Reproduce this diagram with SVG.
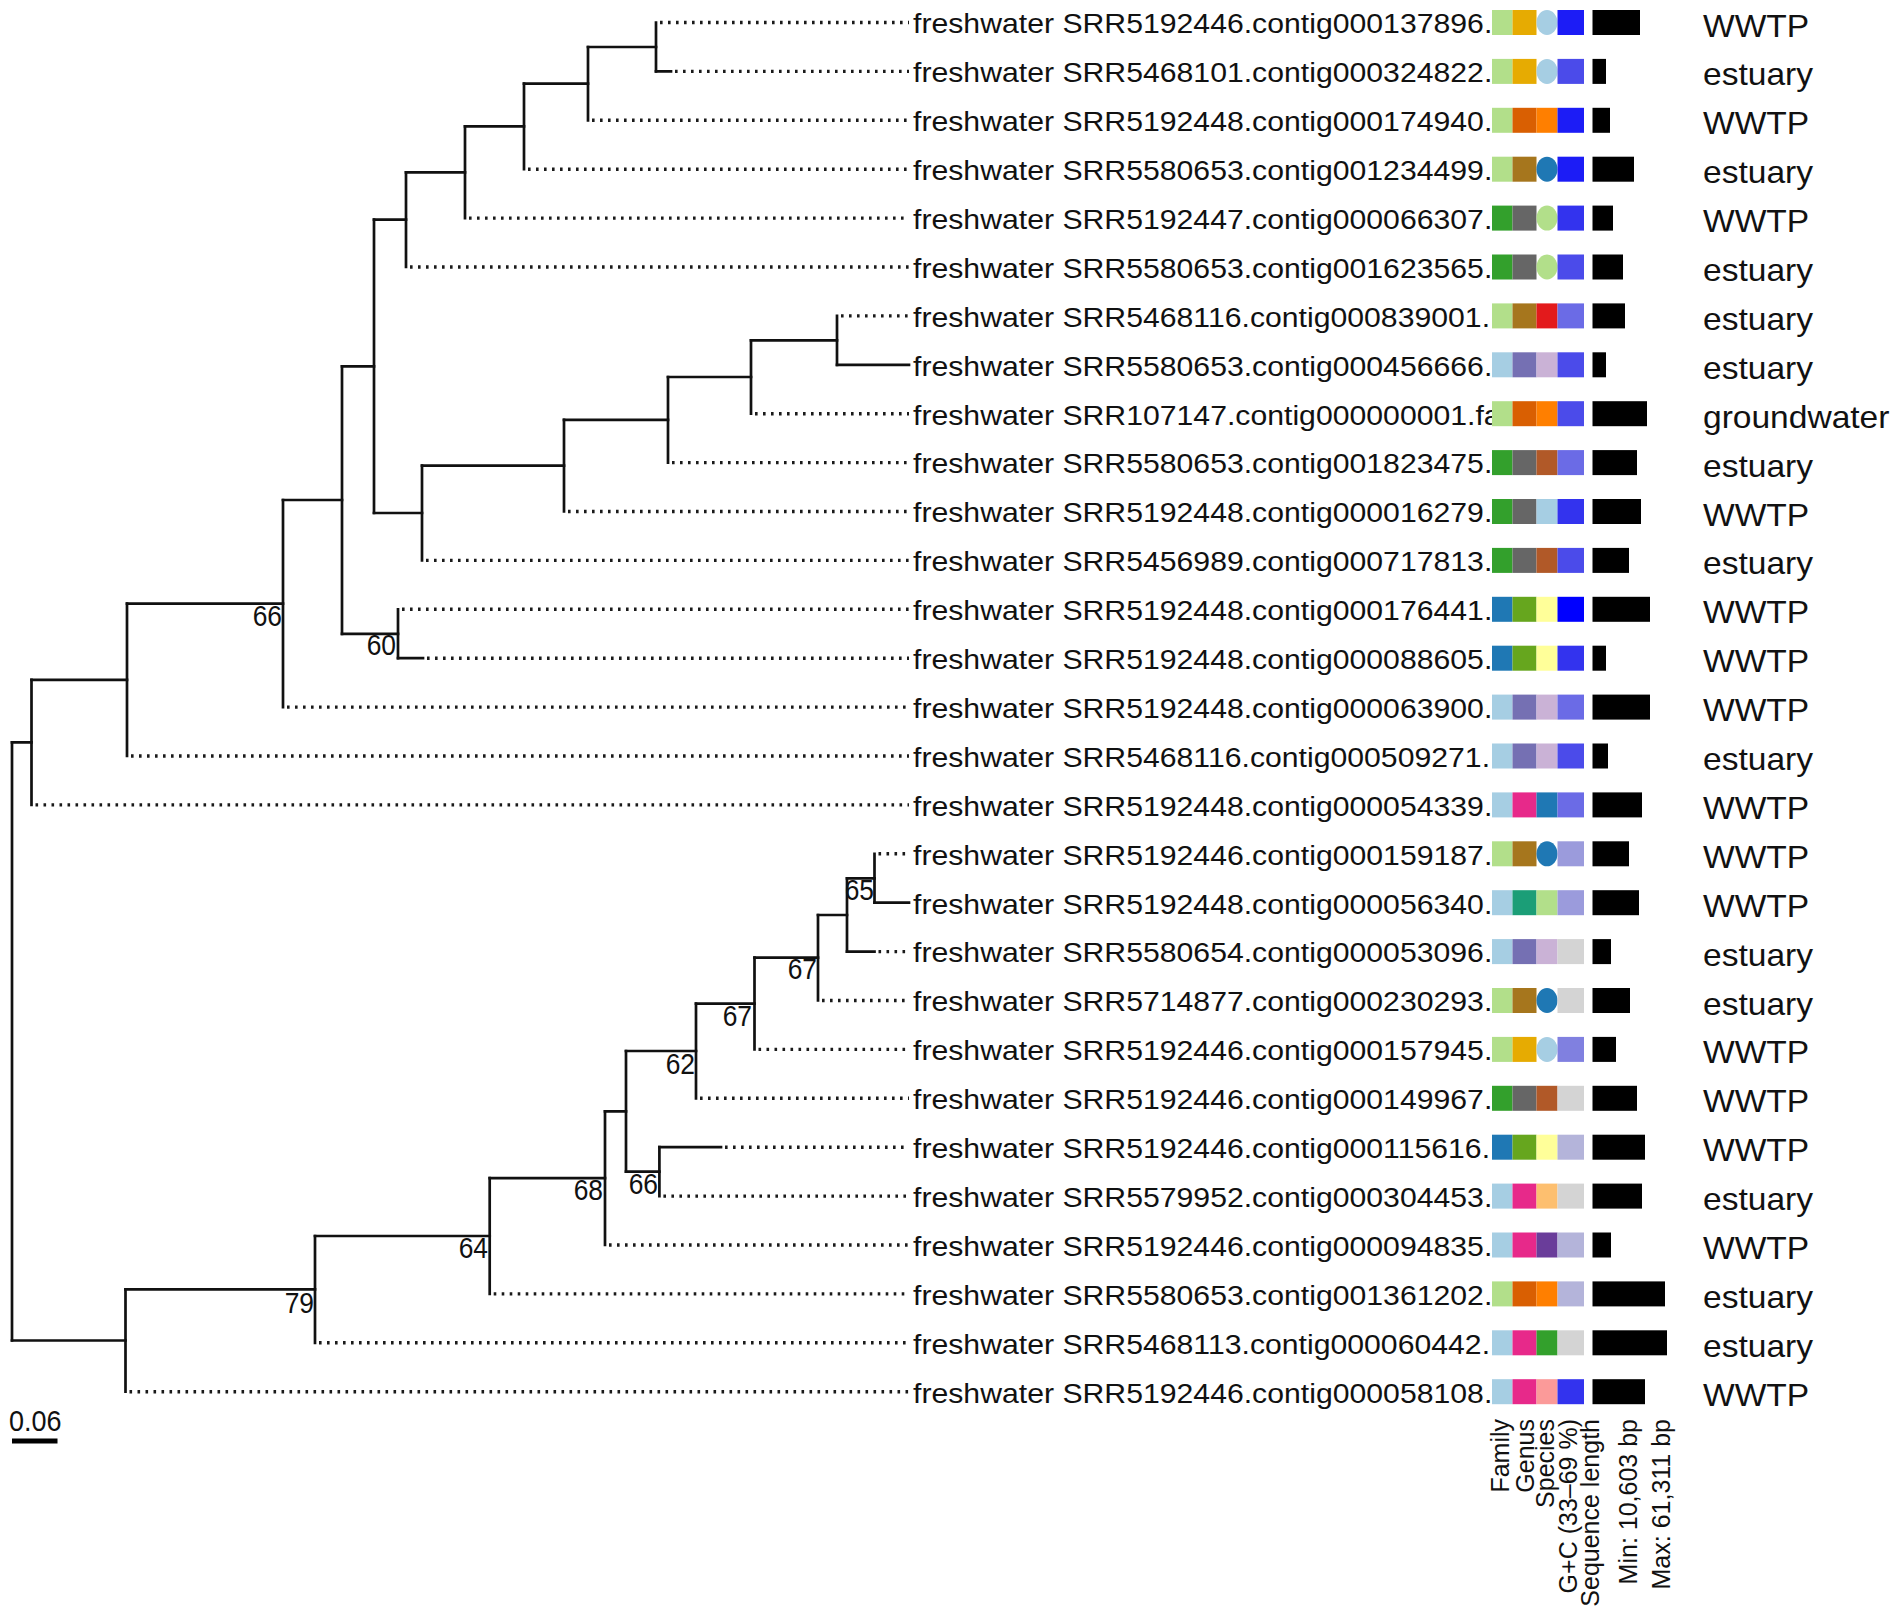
<svg xmlns="http://www.w3.org/2000/svg" width="1902" height="1615" viewBox="0 0 1902 1615">
<style>
text{font-family:"Liberation Sans",Arial,sans-serif;fill:#111}
.lbl{font-size:28.5px}
.hab{font-size:30.5px}
.bs{font-size:30px;text-anchor:end}
.leg{font-size:25px;text-anchor:end}
.br{fill:none;stroke:#111;stroke-width:2.7;stroke-linecap:square}
.dot{fill:none;stroke:#1a1a1a;stroke-width:3.4;stroke-dasharray:2.6 5.4}
.lg{fill:#b2df8a}.g{fill:#33a02c}.lb{fill:#a6cee3}.b{fill:#1f78b4}
.gold{fill:#e6ab02}.dor{fill:#d95f02}.brn{fill:#a6761d}.gray{fill:#666666}.slate{fill:#7570b3}.olive{fill:#66a61e}.mag{fill:#e7298a}.teal{fill:#1b9e77}
.or{fill:#ff7f00}.red{fill:#e31a1c}.lav{fill:#cab2d6}.rb{fill:#b15928}.yel{fill:#ffff99}.lo{fill:#fdbf6f}.pur{fill:#6a3d9a}.pink{fill:#fb9a99}
.gc0{fill:#0000ff}.gc1{fill:#1c1cf6}.gc2{fill:#3333ee}.gc3{fill:#4b4bea}.gc4{fill:#6b6be6}.gc5{fill:#8080e0}.gc6{fill:#9b9bdc}.gc7{fill:#b4b4da}.gc8{fill:#d4d4d4}
.bar{fill:#000}
</style>
<defs>
<clipPath id="lc"><rect x="0" y="0" width="1492" height="1615"/></clipPath>
</defs>
<rect width="1902" height="1615" fill="#fff"/>

<g id="connectors">
<path class="br" d="M656 22.5V71.4M588 47V120.3M524 83.6V169.2M465 126.4V218.1M406 172.3V267M837 315.9V364.8M751 340.4V413.7M668 377V462.6M564 419.8V511.5M422 465.7V560.4M374 219.6V513M398 609.3V658.2M342 366.3V633.8M283 500V707.1M127 603.6V756M31.5 679.8V804.9M874.5 853.8V902.7M847 878.3V951.6M818 915V1000.5M754.5 957.7V1049.4M696 1003.6V1098.3M659.4 1147.2V1196.1M626 1051V1171.7M605 1111.3V1245M489.7 1178.2V1293.9M315 1236V1342.8M125.5 1289.4V1391.7M12 742.3V1340.5"/>
<path class="br" d="M12 742.3H31.5M12 1340.5H125.5M31.5 679.8H127M127 603.6H283M283 500H342M342 366.3H374M342 633.8H398M374 219.6H406M374 513H422M406 172.3H465M465 126.4H524M524 83.6H588M588 47H656M422 465.7H564M564 419.8H668M668 377H751M751 340.4H837M125.5 1289.4H315M315 1236H489.7M489.7 1178.2H605M605 1111.3H626M626 1051H696M626 1171.7H659.4M696 1003.6H754.5M754.5 957.7H818M818 915H847M847 878.3H874.5"/>
<path class="br" d="M656 71.4H671M837 364.8H909M398 658.2H423M874.5 902.7H909M847 951.6H874.5M659.4 1147.2H721"/>
<path class="dot" d="M660 22.5H909M675 71.4H909M592 120.3H909M528 169.2H909M469 218.1H909M410 267H909M841 315.9H909M755 413.7H909M672 462.6H909M568 511.5H909M426 560.4H909M402 609.3H909M427 658.2H909M287 707.1H909M131 756H909M35.5 804.9H909M878.5 853.8H909M878.5 951.6H909M822 1000.5H909M758.5 1049.4H909M700 1098.3H909M725 1147.2H909M663.4 1196.1H909M609 1245H909M493.7 1293.9H909M319 1342.8H909M129.5 1391.7H909"/>
</g>

<g id="bootstrap">
<text class="bs" transform="translate(282,626) scale(0.88,1)">66</text>
<text class="bs" transform="translate(396,655) scale(0.88,1)">60</text>
<text class="bs" transform="translate(874,900) scale(0.88,1)">65</text>
<text class="bs" transform="translate(817,979) scale(0.88,1)">67</text>
<text class="bs" transform="translate(752,1026) scale(0.88,1)">67</text>
<text class="bs" transform="translate(695,1074) scale(0.88,1)">62</text>
<text class="bs" transform="translate(658,1194) scale(0.88,1)">66</text>
<text class="bs" transform="translate(603,1200) scale(0.88,1)">68</text>
<text class="bs" transform="translate(488,1258) scale(0.88,1)">64</text>
<text class="bs" transform="translate(314,1313) scale(0.88,1)">79</text>
</g>

<g id="scalebar">
<text transform="translate(9,1431) scale(0.9,1)" style="font-size:30px">0.06</text>
<path d="M12 1441H57.5" stroke="#000" stroke-width="5"/>
</g>

<g id="leaf0"><g clip-path="url(#lc)"><text class="lbl" transform="translate(913,33.3) scale(1.06,1)">freshwater SRR5192446.contig000137896.</text></g>
<rect class="lg" x="1492" y="10" width="20.5" height="25"/><rect class="gold" x="1512.5" y="10" width="24" height="25"/><ellipse class="lb" cx="1547" cy="22.5" rx="10.5" ry="12.5"/><rect class="gc1" x="1557.5" y="10" width="26.5" height="25"/><rect class="bar" x="1592.5" y="10" width="47.5" height="25"/>
<text class="hab" transform="translate(1703,36.5) scale(1.1,1)">WWTP</text></g>

<g id="leaf1"><g clip-path="url(#lc)"><text class="lbl" transform="translate(913,82.2) scale(1.06,1)">freshwater SRR5468101.contig000324822.</text></g>
<rect class="lg" x="1492" y="58.9" width="20.5" height="25"/><rect class="gold" x="1512.5" y="58.9" width="24" height="25"/><ellipse class="lb" cx="1547" cy="71.4" rx="10.5" ry="12.5"/><rect class="gc3" x="1557.5" y="58.9" width="26.5" height="25"/><rect class="bar" x="1592.5" y="58.9" width="13.5" height="25"/>
<text class="hab" transform="translate(1703,85.4) scale(1.1,1)">estuary</text></g>

<g id="leaf2"><g clip-path="url(#lc)"><text class="lbl" transform="translate(913,131.1) scale(1.06,1)">freshwater SRR5192448.contig000174940.</text></g>
<rect class="lg" x="1492" y="107.8" width="20.5" height="25"/><rect class="dor" x="1512.5" y="107.8" width="24" height="25"/><rect class="or" x="1536.5" y="107.8" width="21" height="25"/><rect class="gc1" x="1557.5" y="107.8" width="26.5" height="25"/><rect class="bar" x="1592.5" y="107.8" width="17.5" height="25"/>
<text class="hab" transform="translate(1703,134.3) scale(1.1,1)">WWTP</text></g>

<g id="leaf3"><g clip-path="url(#lc)"><text class="lbl" transform="translate(913,180) scale(1.06,1)">freshwater SRR5580653.contig001234499.</text></g>
<rect class="lg" x="1492" y="156.7" width="20.5" height="25"/><rect class="brn" x="1512.5" y="156.7" width="24" height="25"/><ellipse class="b" cx="1547" cy="169.2" rx="10.5" ry="12.5"/><rect class="gc1" x="1557.5" y="156.7" width="26.5" height="25"/><rect class="bar" x="1592.5" y="156.7" width="41.5" height="25"/>
<text class="hab" transform="translate(1703,183.2) scale(1.1,1)">estuary</text></g>

<g id="leaf4"><g clip-path="url(#lc)"><text class="lbl" transform="translate(913,228.9) scale(1.06,1)">freshwater SRR5192447.contig000066307.</text></g>
<rect class="g" x="1492" y="205.6" width="20.5" height="25"/><rect class="gray" x="1512.5" y="205.6" width="24" height="25"/><ellipse class="lg" cx="1547" cy="218.1" rx="10.5" ry="12.5"/><rect class="gc2" x="1557.5" y="205.6" width="26.5" height="25"/><rect class="bar" x="1592.5" y="205.6" width="20.5" height="25"/>
<text class="hab" transform="translate(1703,232.1) scale(1.1,1)">WWTP</text></g>

<g id="leaf5"><g clip-path="url(#lc)"><text class="lbl" transform="translate(913,277.8) scale(1.06,1)">freshwater SRR5580653.contig001623565.</text></g>
<rect class="g" x="1492" y="254.5" width="20.5" height="25"/><rect class="gray" x="1512.5" y="254.5" width="24" height="25"/><ellipse class="lg" cx="1547" cy="267" rx="10.5" ry="12.5"/><rect class="gc3" x="1557.5" y="254.5" width="26.5" height="25"/><rect class="bar" x="1592.5" y="254.5" width="30.5" height="25"/>
<text class="hab" transform="translate(1703,281) scale(1.1,1)">estuary</text></g>

<g id="leaf6"><g clip-path="url(#lc)"><text class="lbl" transform="translate(913,326.7) scale(1.06,1)">freshwater SRR5468116.contig000839001.</text></g>
<rect class="lg" x="1492" y="303.4" width="20.5" height="25"/><rect class="brn" x="1512.5" y="303.4" width="24" height="25"/><rect class="red" x="1536.5" y="303.4" width="21" height="25"/><rect class="gc4" x="1557.5" y="303.4" width="26.5" height="25"/><rect class="bar" x="1592.5" y="303.4" width="32.5" height="25"/>
<text class="hab" transform="translate(1703,329.9) scale(1.1,1)">estuary</text></g>

<g id="leaf7"><g clip-path="url(#lc)"><text class="lbl" transform="translate(913,375.6) scale(1.06,1)">freshwater SRR5580653.contig000456666.</text></g>
<rect class="lb" x="1492" y="352.3" width="20.5" height="25"/><rect class="slate" x="1512.5" y="352.3" width="24" height="25"/><rect class="lav" x="1536.5" y="352.3" width="21" height="25"/><rect class="gc3" x="1557.5" y="352.3" width="26.5" height="25"/><rect class="bar" x="1592.5" y="352.3" width="13.5" height="25"/>
<text class="hab" transform="translate(1703,378.8) scale(1.1,1)">estuary</text></g>

<g id="leaf8"><g clip-path="url(#lc)"><text class="lbl" transform="translate(913,424.5) scale(1.06,1)">freshwater SRR107147.contig000000001.fa</text></g>
<rect class="lg" x="1492" y="401.2" width="20.5" height="25"/><rect class="dor" x="1512.5" y="401.2" width="24" height="25"/><rect class="or" x="1536.5" y="401.2" width="21" height="25"/><rect class="gc3" x="1557.5" y="401.2" width="26.5" height="25"/><rect class="bar" x="1592.5" y="401.2" width="54.5" height="25"/>
<text class="hab" transform="translate(1703,427.7) scale(1.1,1)">groundwater</text></g>

<g id="leaf9"><g clip-path="url(#lc)"><text class="lbl" transform="translate(913,473.4) scale(1.06,1)">freshwater SRR5580653.contig001823475.</text></g>
<rect class="g" x="1492" y="450.1" width="20.5" height="25"/><rect class="gray" x="1512.5" y="450.1" width="24" height="25"/><rect class="rb" x="1536.5" y="450.1" width="21" height="25"/><rect class="gc4" x="1557.5" y="450.1" width="26.5" height="25"/><rect class="bar" x="1592.5" y="450.1" width="44.5" height="25"/>
<text class="hab" transform="translate(1703,476.6) scale(1.1,1)">estuary</text></g>

<g id="leaf10"><g clip-path="url(#lc)"><text class="lbl" transform="translate(913,522.3) scale(1.06,1)">freshwater SRR5192448.contig000016279.</text></g>
<rect class="g" x="1492" y="499" width="20.5" height="25"/><rect class="gray" x="1512.5" y="499" width="24" height="25"/><rect class="lb" x="1536.5" y="499" width="21" height="25"/><rect class="gc2" x="1557.5" y="499" width="26.5" height="25"/><rect class="bar" x="1592.5" y="499" width="48.5" height="25"/>
<text class="hab" transform="translate(1703,525.5) scale(1.1,1)">WWTP</text></g>

<g id="leaf11"><g clip-path="url(#lc)"><text class="lbl" transform="translate(913,571.2) scale(1.06,1)">freshwater SRR5456989.contig000717813.</text></g>
<rect class="g" x="1492" y="547.9" width="20.5" height="25"/><rect class="gray" x="1512.5" y="547.9" width="24" height="25"/><rect class="rb" x="1536.5" y="547.9" width="21" height="25"/><rect class="gc3" x="1557.5" y="547.9" width="26.5" height="25"/><rect class="bar" x="1592.5" y="547.9" width="36.5" height="25"/>
<text class="hab" transform="translate(1703,574.4) scale(1.1,1)">estuary</text></g>

<g id="leaf12"><g clip-path="url(#lc)"><text class="lbl" transform="translate(913,620.1) scale(1.06,1)">freshwater SRR5192448.contig000176441.</text></g>
<rect class="b" x="1492" y="596.8" width="20.5" height="25"/><rect class="olive" x="1512.5" y="596.8" width="24" height="25"/><rect class="yel" x="1536.5" y="596.8" width="21" height="25"/><rect class="gc0" x="1557.5" y="596.8" width="26.5" height="25"/><rect class="bar" x="1592.5" y="596.8" width="57.5" height="25"/>
<text class="hab" transform="translate(1703,623.3) scale(1.1,1)">WWTP</text></g>

<g id="leaf13"><g clip-path="url(#lc)"><text class="lbl" transform="translate(913,669) scale(1.06,1)">freshwater SRR5192448.contig000088605.</text></g>
<rect class="b" x="1492" y="645.7" width="20.5" height="25"/><rect class="olive" x="1512.5" y="645.7" width="24" height="25"/><rect class="yel" x="1536.5" y="645.7" width="21" height="25"/><rect class="gc2" x="1557.5" y="645.7" width="26.5" height="25"/><rect class="bar" x="1592.5" y="645.7" width="13.5" height="25"/>
<text class="hab" transform="translate(1703,672.2) scale(1.1,1)">WWTP</text></g>

<g id="leaf14"><g clip-path="url(#lc)"><text class="lbl" transform="translate(913,717.9) scale(1.06,1)">freshwater SRR5192448.contig000063900.</text></g>
<rect class="lb" x="1492" y="694.6" width="20.5" height="25"/><rect class="slate" x="1512.5" y="694.6" width="24" height="25"/><rect class="lav" x="1536.5" y="694.6" width="21" height="25"/><rect class="gc4" x="1557.5" y="694.6" width="26.5" height="25"/><rect class="bar" x="1592.5" y="694.6" width="57.5" height="25"/>
<text class="hab" transform="translate(1703,721.1) scale(1.1,1)">WWTP</text></g>

<g id="leaf15"><g clip-path="url(#lc)"><text class="lbl" transform="translate(913,766.8) scale(1.06,1)">freshwater SRR5468116.contig000509271.</text></g>
<rect class="lb" x="1492" y="743.5" width="20.5" height="25"/><rect class="slate" x="1512.5" y="743.5" width="24" height="25"/><rect class="lav" x="1536.5" y="743.5" width="21" height="25"/><rect class="gc3" x="1557.5" y="743.5" width="26.5" height="25"/><rect class="bar" x="1592.5" y="743.5" width="15.5" height="25"/>
<text class="hab" transform="translate(1703,770) scale(1.1,1)">estuary</text></g>

<g id="leaf16"><g clip-path="url(#lc)"><text class="lbl" transform="translate(913,815.7) scale(1.06,1)">freshwater SRR5192448.contig000054339.</text></g>
<rect class="lb" x="1492" y="792.4" width="20.5" height="25"/><rect class="mag" x="1512.5" y="792.4" width="24" height="25"/><rect class="b" x="1536.5" y="792.4" width="21" height="25"/><rect class="gc4" x="1557.5" y="792.4" width="26.5" height="25"/><rect class="bar" x="1592.5" y="792.4" width="49.5" height="25"/>
<text class="hab" transform="translate(1703,818.9) scale(1.1,1)">WWTP</text></g>

<g id="leaf17"><g clip-path="url(#lc)"><text class="lbl" transform="translate(913,864.6) scale(1.06,1)">freshwater SRR5192446.contig000159187.</text></g>
<rect class="lg" x="1492" y="841.3" width="20.5" height="25"/><rect class="brn" x="1512.5" y="841.3" width="24" height="25"/><ellipse class="b" cx="1547" cy="853.8" rx="10.5" ry="12.5"/><rect class="gc6" x="1557.5" y="841.3" width="26.5" height="25"/><rect class="bar" x="1592.5" y="841.3" width="36.5" height="25"/>
<text class="hab" transform="translate(1703,867.8) scale(1.1,1)">WWTP</text></g>

<g id="leaf18"><g clip-path="url(#lc)"><text class="lbl" transform="translate(913,913.5) scale(1.06,1)">freshwater SRR5192448.contig000056340.</text></g>
<rect class="lb" x="1492" y="890.2" width="20.5" height="25"/><rect class="teal" x="1512.5" y="890.2" width="24" height="25"/><rect class="lg" x="1536.5" y="890.2" width="21" height="25"/><rect class="gc6" x="1557.5" y="890.2" width="26.5" height="25"/><rect class="bar" x="1592.5" y="890.2" width="46.5" height="25"/>
<text class="hab" transform="translate(1703,916.7) scale(1.1,1)">WWTP</text></g>

<g id="leaf19"><g clip-path="url(#lc)"><text class="lbl" transform="translate(913,962.4) scale(1.06,1)">freshwater SRR5580654.contig000053096.</text></g>
<rect class="lb" x="1492" y="939.1" width="20.5" height="25"/><rect class="slate" x="1512.5" y="939.1" width="24" height="25"/><rect class="lav" x="1536.5" y="939.1" width="21" height="25"/><rect class="gc8" x="1557.5" y="939.1" width="26.5" height="25"/><rect class="bar" x="1592.5" y="939.1" width="18.5" height="25"/>
<text class="hab" transform="translate(1703,965.6) scale(1.1,1)">estuary</text></g>

<g id="leaf20"><g clip-path="url(#lc)"><text class="lbl" transform="translate(913,1011.3) scale(1.06,1)">freshwater SRR5714877.contig000230293.</text></g>
<rect class="lg" x="1492" y="988" width="20.5" height="25"/><rect class="brn" x="1512.5" y="988" width="24" height="25"/><ellipse class="b" cx="1547" cy="1000.5" rx="10.5" ry="12.5"/><rect class="gc8" x="1557.5" y="988" width="26.5" height="25"/><rect class="bar" x="1592.5" y="988" width="37.5" height="25"/>
<text class="hab" transform="translate(1703,1014.5) scale(1.1,1)">estuary</text></g>

<g id="leaf21"><g clip-path="url(#lc)"><text class="lbl" transform="translate(913,1060.2) scale(1.06,1)">freshwater SRR5192446.contig000157945.</text></g>
<rect class="lg" x="1492" y="1036.9" width="20.5" height="25"/><rect class="gold" x="1512.5" y="1036.9" width="24" height="25"/><ellipse class="lb" cx="1547" cy="1049.4" rx="10.5" ry="12.5"/><rect class="gc5" x="1557.5" y="1036.9" width="26.5" height="25"/><rect class="bar" x="1592.5" y="1036.9" width="23.5" height="25"/>
<text class="hab" transform="translate(1703,1063.4) scale(1.1,1)">WWTP</text></g>

<g id="leaf22"><g clip-path="url(#lc)"><text class="lbl" transform="translate(913,1109.1) scale(1.06,1)">freshwater SRR5192446.contig000149967.</text></g>
<rect class="g" x="1492" y="1085.8" width="20.5" height="25"/><rect class="gray" x="1512.5" y="1085.8" width="24" height="25"/><rect class="rb" x="1536.5" y="1085.8" width="21" height="25"/><rect class="gc8" x="1557.5" y="1085.8" width="26.5" height="25"/><rect class="bar" x="1592.5" y="1085.8" width="44.5" height="25"/>
<text class="hab" transform="translate(1703,1112.3) scale(1.1,1)">WWTP</text></g>

<g id="leaf23"><g clip-path="url(#lc)"><text class="lbl" transform="translate(913,1158) scale(1.06,1)">freshwater SRR5192446.contig000115616.</text></g>
<rect class="b" x="1492" y="1134.7" width="20.5" height="25"/><rect class="olive" x="1512.5" y="1134.7" width="24" height="25"/><rect class="yel" x="1536.5" y="1134.7" width="21" height="25"/><rect class="gc7" x="1557.5" y="1134.7" width="26.5" height="25"/><rect class="bar" x="1592.5" y="1134.7" width="52.5" height="25"/>
<text class="hab" transform="translate(1703,1161.2) scale(1.1,1)">WWTP</text></g>

<g id="leaf24"><g clip-path="url(#lc)"><text class="lbl" transform="translate(913,1206.9) scale(1.06,1)">freshwater SRR5579952.contig000304453.</text></g>
<rect class="lb" x="1492" y="1183.6" width="20.5" height="25"/><rect class="mag" x="1512.5" y="1183.6" width="24" height="25"/><rect class="lo" x="1536.5" y="1183.6" width="21" height="25"/><rect class="gc8" x="1557.5" y="1183.6" width="26.5" height="25"/><rect class="bar" x="1592.5" y="1183.6" width="49.5" height="25"/>
<text class="hab" transform="translate(1703,1210.1) scale(1.1,1)">estuary</text></g>

<g id="leaf25"><g clip-path="url(#lc)"><text class="lbl" transform="translate(913,1255.8) scale(1.06,1)">freshwater SRR5192446.contig000094835.</text></g>
<rect class="lb" x="1492" y="1232.5" width="20.5" height="25"/><rect class="mag" x="1512.5" y="1232.5" width="24" height="25"/><rect class="pur" x="1536.5" y="1232.5" width="21" height="25"/><rect class="gc7" x="1557.5" y="1232.5" width="26.5" height="25"/><rect class="bar" x="1592.5" y="1232.5" width="18.5" height="25"/>
<text class="hab" transform="translate(1703,1259) scale(1.1,1)">WWTP</text></g>

<g id="leaf26"><g clip-path="url(#lc)"><text class="lbl" transform="translate(913,1304.7) scale(1.06,1)">freshwater SRR5580653.contig001361202.</text></g>
<rect class="lg" x="1492" y="1281.4" width="20.5" height="25"/><rect class="dor" x="1512.5" y="1281.4" width="24" height="25"/><rect class="or" x="1536.5" y="1281.4" width="21" height="25"/><rect class="gc7" x="1557.5" y="1281.4" width="26.5" height="25"/><rect class="bar" x="1592.5" y="1281.4" width="72.5" height="25"/>
<text class="hab" transform="translate(1703,1307.9) scale(1.1,1)">estuary</text></g>

<g id="leaf27"><g clip-path="url(#lc)"><text class="lbl" transform="translate(913,1353.6) scale(1.06,1)">freshwater SRR5468113.contig000060442.</text></g>
<rect class="lb" x="1492" y="1330.3" width="20.5" height="25"/><rect class="mag" x="1512.5" y="1330.3" width="24" height="25"/><rect class="g" x="1536.5" y="1330.3" width="21" height="25"/><rect class="gc8" x="1557.5" y="1330.3" width="26.5" height="25"/><rect class="bar" x="1592.5" y="1330.3" width="74.5" height="25"/>
<text class="hab" transform="translate(1703,1356.8) scale(1.1,1)">estuary</text></g>

<g id="leaf28"><g clip-path="url(#lc)"><text class="lbl" transform="translate(913,1402.5) scale(1.06,1)">freshwater SRR5192446.contig000058108.</text></g>
<rect class="lb" x="1492" y="1379.2" width="20.5" height="25"/><rect class="mag" x="1512.5" y="1379.2" width="24" height="25"/><rect class="pink" x="1536.5" y="1379.2" width="21" height="25"/><rect class="gc2" x="1557.5" y="1379.2" width="26.5" height="25"/><rect class="bar" x="1592.5" y="1379.2" width="52.5" height="25"/>
<text class="hab" transform="translate(1703,1405.7) scale(1.1,1)">WWTP</text></g>

<g id="legend">
<text class="leg" transform="translate(1509,1419) rotate(-90)">Family</text>
<text class="leg" transform="translate(1534,1419) rotate(-90)">Genus</text>
<text class="leg" transform="translate(1554,1419) rotate(-90)">Species</text>
<text class="leg" transform="translate(1577,1419) rotate(-90)">G+C (33–69 %)</text>
<text class="leg" transform="translate(1599,1419) rotate(-90)">Sequence length</text>
<text class="leg" transform="translate(1637,1419) rotate(-90)">Min: 10,603 bp</text>
<text class="leg" transform="translate(1670,1419) rotate(-90)">Max: 61,311 bp</text>
</g>
</svg>
